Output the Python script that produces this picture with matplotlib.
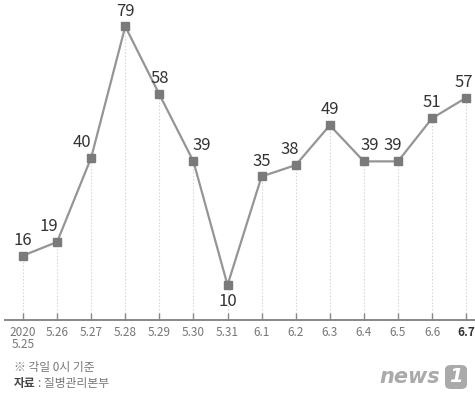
import matplotlib
matplotlib.use("Agg")
import matplotlib.pyplot as plt
import numpy as np
from matplotlib.patches import FancyBboxPatch

plt.rcParams['font.family'] = ['Noto Sans CJK KR', 'DejaVu Sans']

# data
dates = ["2020\n5.25", "5.26", "5.27", "5.28", "5.29", "5.30", "5.31",
         "6.1", "6.2", "6.3", "6.4", "6.5", "6.6", "6.7"]
cases = [16, 19, 40, 79, 58, 39, 10, 35, 38, 49, 39, 39, 51, 57]

# label nudges (points): dx, dy
label_dx = [0, -6, -7, 0, 0, 6, 0, 0, -4, 0, 4, -4, 0, -2]
label_below = [False, False, False, False, False, False, True,
               False, False, False, False, False, False, False]

LINE = "#959595"
MARK = "#7a7a7a"
TXT = "#333333"

fig = plt.figure(figsize=(4.75, 3.98), dpi=100)
ax = fig.add_axes([5 / 475, 1 - 320 / 398, 470 / 475, 320 / 398])

# the original infographic is not drawn to a linear scale
p = 0.75
ax.set_yscale('function', functions=(lambda v: np.sign(v) * np.abs(v) ** p,
                                     lambda v: np.sign(v) * np.abs(v) ** (1 / p)))

x = np.arange(len(cases))
ax.vlines(x, 3.95, cases, colors="#d2d2d2", linestyles=(0, (1.2, 1.8)), linewidth=0.8, zorder=1)
ax.plot(x, cases, color=LINE, linewidth=1.6, zorder=2)
ax.plot(x, cases, linestyle="none", marker="s", markersize=5.5, color=MARK, zorder=3)

for i, v in enumerate(cases):
    if label_below[i]:
        ax.annotate(str(v), (x[i], v), xytext=(label_dx[i], -6), textcoords="offset points",
                    ha="center", va="top", fontsize=12, color=TXT)
    else:
        ax.annotate(str(v), (x[i], v), xytext=(label_dx[i], 5), textcoords="offset points",
                    ha="center", va="bottom", fontsize=12, color=TXT)

ax.set_xlim(-0.528, 13.26)
ax.set_ylim(3.95, 87.6)

for s in ["top", "right", "left"]:
    ax.spines[s].set_visible(False)
ax.spines["bottom"].set_color("#888888")
ax.spines["bottom"].set_linewidth(1.4)
ax.set_yticks([])
ax.yaxis.set_minor_locator(matplotlib.ticker.NullLocator())
ax.set_xticks(x)
ax.set_xticklabels(dates, fontsize=8.5, color="#777777", linespacing=0.95)
ax.tick_params(axis="x", direction="in", length=5, width=1, color="#888888", pad=4)
lbls = ax.get_xticklabels()
lbls[-1].set_color("#333333")
lbls[-1].set_fontweight("bold")
ax.patch.set_visible(False)

# footer
fig.text(14 / 475, 1 - 368 / 398, "※ 각일 0시 기준", fontsize=8.5, color="#777777", va="center")
fig.text(14 / 475, 1 - 384 / 398, "자료", fontsize=8.5, color="#444444", va="center", fontweight="bold")
fig.text(38 / 475, 1 - 384 / 398, ": 질병관리본부", fontsize=8.5, color="#777777", va="center")

# news1 mark
fig.text(440 / 475, 1 - 377 / 398, "news", fontsize=15, color="#aaaaaa", ha="right", va="center",
         fontweight="bold", style="italic", family="DejaVu Sans")
box = FancyBboxPatch((445 / 475, 1 - 389 / 398), 22 / 475, 24 / 398,
                     boxstyle="round,pad=0.0,rounding_size=0.012",
                     transform=fig.transFigure, facecolor="#aaaaaa", edgecolor="none")
fig.patches.append(box)
fig.text(456 / 475, 1 - 377 / 398, "1", fontsize=14, color="white", ha="center", va="center",
         fontweight="bold", style="italic", family="DejaVu Sans")

fig.savefig("out.png", dpi=100, facecolor="white")
